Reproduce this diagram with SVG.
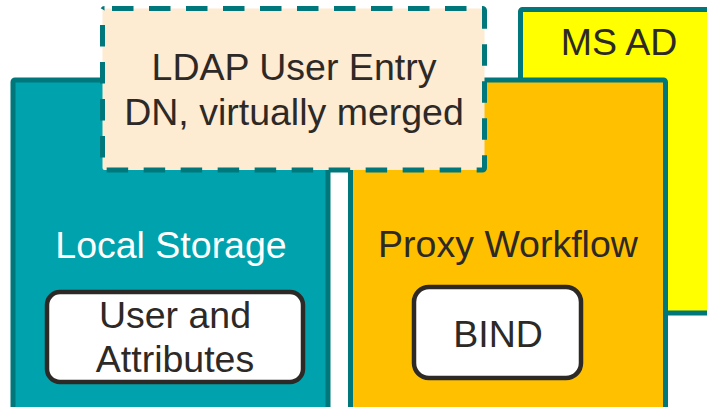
<svg xmlns="http://www.w3.org/2000/svg" width="707" height="407" viewBox="0 0 707 407">
  <style>
    .panel { stroke: #00777B; stroke-width: 5; }
    .inner { fill: #FFFFFF; stroke: #2D2926; stroke-width: 4.5; }
    .label { font-family: "Liberation Sans", Arial, sans-serif; font-size: 37.5px; text-anchor: middle; fill: #2D2926; }
    .light { fill: #FFFFFF; }
  </style>
  <rect width="707" height="407" fill="#FFFFFF"/>

  <!-- back panel: directory server -->
  <g id="ms-ad">
    <rect class="panel" x="520.5" y="9.5" width="200" height="303.5" rx="2" fill="#FFFF00"/>
    <text class="label" x="619" y="55">MS AD</text>
  </g>

  <!-- local storage panel -->
  <g id="local-storage">
    <rect class="panel" x="13" y="80" width="315" height="330" rx="2" fill="#00A3AD"/>
    <text class="label light" x="171" y="258">Local Storage</text>
  </g>

  <g id="user-attributes">
    <rect class="inner" x="47" y="292" width="256" height="90" rx="13"/>
    <text class="label" x="175" y="328">User and</text>
    <text class="label" x="175" y="372">Attributes</text>
  </g>

  <!-- proxy panel -->
  <g id="proxy-workflow">
    <rect class="panel" x="350.5" y="80" width="315" height="330" rx="2" fill="#FFC000"/>
    <text class="label" x="508" y="257">Proxy Workflow</text>
  </g>

  <g id="bind">
    <rect class="inner" x="414" y="287" width="167" height="91" rx="15"/>
    <text class="label" x="498" y="347">BIND</text>
  </g>

  <!-- merged entry overlay -->
  <g id="ldap-entry">
    <rect x="102.5" y="8.5" width="382" height="161.5" rx="2" fill="#FDEBD2" stroke="#00777B" stroke-width="5" stroke-dasharray="21.5 15.5" stroke-dashoffset="29.5"/>
    <text class="label" x="294" y="80">LDAP User Entry</text>
    <text class="label" x="294" y="125">DN, virtually merged</text>
  </g>

  <g id="connectors"></g>
</svg>
